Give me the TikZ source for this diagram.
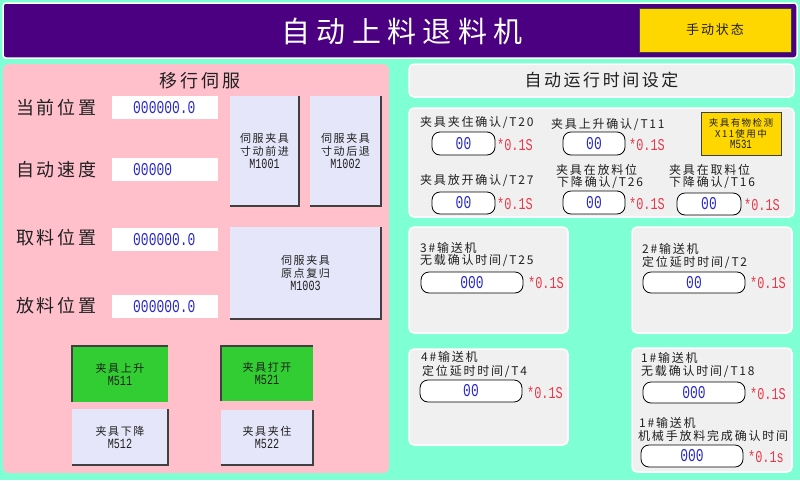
\documentclass[tikz,border=0pt]{standalone}
\usepackage{fontspec}
\setmainfont{Noto Sans CJK SC}
\newfontfamily\cjk[LetterSpace=15]{Noto Sans CJK SC}
\newfontfamily\cjkt[LetterSpace=22]{Noto Sans CJK SC}
\newfontfamily\mono[FakeStretch=0.72]{Liberation Mono}
\definecolor{bgc}{HTML}{7FFFD4}
\definecolor{hdrc}{HTML}{4B0082}
\definecolor{goldc}{HTML}{FFD700}
\definecolor{pinkc}{HTML}{FFC0CB}
\definecolor{lavc}{HTML}{E6E6FA}
\definecolor{greenc}{HTML}{32CD32}
\definecolor{panc}{HTML}{F0F0F0}
\definecolor{bluec}{HTML}{2828C8}
\definecolor{redc}{HTML}{E8384A}
\definecolor{txtc}{HTML}{202020}
\definecolor{edgec}{HTML}{404040}
\newcommand\bx[7]{\node[box,#6,minimum width={(#4)-(#2)},minimum height={(#5)-(#3)}] (#1) at (#2,#3) {#7};}
\newcommand\bevel[1]{\draw[edgec,line width=1.2pt] (#1.north east) -- (#1.south east) -- (#1.south west);}
\newcommand\sunk[1]{\draw[edgec,line width=1.2pt] (#1.south west) -- (#1.north west) -- (#1.north east);}
\newcommand\code[1]{{\mono\fontsize{14}{13}\selectfont #1}}
\tikzset{
  box/.style={inner sep=0pt,outer sep=0pt,anchor=north west,align=center},
  panel/.style={fill=panc,draw=white,line width=1.5pt,rounded corners=5pt},
  field/.style={fill=white,draw=black,line width=0.8pt,rounded corners=8pt,text=bluec,font=\mono\fontsize{18}{18}\selectfont},
  wfield/.style={fill=white},
  wval/.style={anchor=west,inner sep=0pt,text=bluec,font=\mono\fontsize{18}{18}\selectfont},
  lbtn/.style={fill=lavc,text=txtc,font=\cjk\fontsize{11}{13}\selectfont},
  gbtn/.style={fill=greenc,text=txtc,font=\cjk\fontsize{11}{13}\selectfont},
  biglbl/.style={anchor=west,inner sep=0pt,text=txtc,font=\cjk\fontsize{18}{18}\selectfont},
  lbl/.style={anchor=west,inner sep=0pt,text=txtc,font=\cjk\fontsize{12}{12}\selectfont},
  unit/.style={anchor=west,inner sep=0pt,text=redc,font=\mono\fontsize{16.5}{16}\selectfont},
}
\begin{document}
\begin{tikzpicture}[x=1pt,y=-1pt]
\useasboundingbox (0,0) rectangle (800,480);
\fill[bgc] (0,0) rectangle (800,480);
% header
\bx{hdr}{3}{3}{797}{58}{fill=hdrc,draw=white,line width=1.5pt,rounded corners=3pt}{}
\node[text=white,font=\cjkt\fontsize{29}{29}\selectfont] (title) at (402,31) {自动上料退料机};
\bx{manual}{639}{8}{791}{52}{fill=goldc,draw=edgec,line width=0.8pt,text=txtc,font=\cjk\fontsize{13}{13}\selectfont}{手动状态}
% left panel
\bx{lp}{3}{64}{389}{473}{fill=pinkc,rounded corners=6pt}{}
\node[text=txtc,font=\cjk\fontsize{18}{18}\selectfont] (lpt) at (200,81) {移行伺服};
\node[biglbl] (l1) at (16,108) {当前位置};
\node[biglbl] (l2) at (16,170) {自动速度};
\node[biglbl] (l3) at (16,238) {取料位置};
\node[biglbl] (l4) at (16,306) {放料位置};
\bx{w1}{112}{96}{218}{119}{wfield}{}
\bx{w2}{112}{158}{218}{181}{wfield}{}
\bx{w3}{112}{228}{218}{251}{wfield}{}
\bx{w4}{112}{295}{218}{318}{wfield}{}
\node[wval] (v1) at (133,108) {000000.0};
\node[wval] (v2) at (133,170) {00000};
\node[wval] (v3) at (133,240) {000000.0};
\node[wval] (v4) at (133,307) {000000.0};
\bx{b1}{230}{96}{299}{206}{lbtn}{伺服夹具\\寸动前进\\\code{M1001}}\bevel{b1}
\bx{b2}{310}{96}{381}{206}{lbtn}{伺服夹具\\寸动后退\\\code{M1002}}\bevel{b2}
\bx{b3}{230}{227}{381}{319}{lbtn}{伺服夹具\\原点复归\\\code{M1003}}\bevel{b3}
\bx{g1}{72}{346}{168}{402}{gbtn}{夹具上升\\\code{M511}}\sunk{g1}
\bx{g2}{221}{346}{313}{401}{gbtn}{夹具打开\\\code{M521}}\sunk{g2}
\bx{d1}{72}{409}{168}{465}{lbtn}{夹具下降\\\code{M512}}\bevel{d1}
\bx{d2}{221}{410}{313}{465}{lbtn}{夹具夹住\\\code{M522}}\bevel{d2}
% right top title
\bx{p0}{409}{64}{794}{97}{panel,text=txtc,font=\cjk\fontsize{17}{17}\selectfont}{自动运行时间设定}
% right timing panel
\bx{p1}{409}{108}{794}{217}{panel}{}
\node[lbl] (t20) at (420,123) {夹具夹住确认/T20};
\node[lbl] (t11) at (551,125) {夹具上升确认/T11};
\bx{f20}{432}{132}{495}{155}{field}{00}
\node[unit] (u20) at (497,145) {*0.1S};
\bx{f11}{563}{132}{625}{155}{field}{00}
\node[unit] (u11) at (629,145) {*0.1S};
\bx{det}{701}{112}{781}{155}{fill=goldc,draw=edgec,line width=0.8pt,text=txtc,font=\cjk\fontsize{9.5}{11}\selectfont}{夹具有物检测\\X11使用中\\{\mono\fontsize{12.5}{11}\selectfont M531}}
\node[lbl] (t27) at (420,181) {夹具放开确认/T27};
\node[lbl] (t26a) at (556,170) {夹具在放料位};
\node[lbl] (t26b) at (557,183) {下降确认/T26};
\bx{f27}{432}{192}{495}{214}{field}{00}
\node[unit] (u27) at (497,204) {*0.1S};
\bx{f26}{563}{191}{625}{214}{field}{00}
\node[unit] (u26) at (629,204) {*0.1S};
\node[lbl] (t16a) at (669,170) {夹具在取料位};
\node[lbl] (t16b) at (669,183) {下降确认/T16};
\bx{f16}{677}{193}{741}{215}{field}{00}
\node[unit] (u16) at (744,205) {*0.1S};
% 3#
\bx{p2}{409}{227}{568}{333}{panel}{}
\node[lbl] (c3a) at (420,248) {3\#输送机};
\node[lbl] (c3b) at (420,261) {无载确认时间/T25};
\bx{f25}{421}{272}{523}{293}{field}{000}
\node[unit] (u25) at (528,283) {*0.1S};
% 2#
\bx{p3}{632}{227}{792}{333}{panel}{}
\node[lbl] (c2a) at (642,249) {2\#输送机};
\node[lbl] (c2b) at (642,262) {定位延时时间/T2};
\bx{f2}{643}{272}{745}{293}{field}{00}
\node[unit] (u2) at (750,283) {*0.1S};
% 4#
\bx{p4}{409}{349}{568}{445}{panel}{}
\node[lbl] (c4a) at (421,357) {4\#输送机};
\node[lbl] (c4b) at (422,371) {定位延时时间/T4};
\bx{f4}{420}{380}{522}{402}{field}{00}
\node[unit] (u4) at (527,393) {*0.1S};
% 1#
\bx{p5}{632}{348}{792}{472}{panel}{}
\node[lbl] (c1a) at (641,358) {1\#输送机};
\node[lbl] (c1b) at (641,372) {无载确认时间/T18};
\bx{f18}{643}{382}{745}{403}{field}{000}
\node[unit] (u18) at (750,394) {*0.1S};
\node[lbl] (c1c) at (639,423) {1\#输送机};
\node[lbl] (c1d) at (638,436) {机械手放料完成确认时间};
\bx{fx}{641}{445}{743}{467}{field}{000}
\node[unit] (ux) at (748,457) {*0.1s};
\end{tikzpicture}
\end{document}
